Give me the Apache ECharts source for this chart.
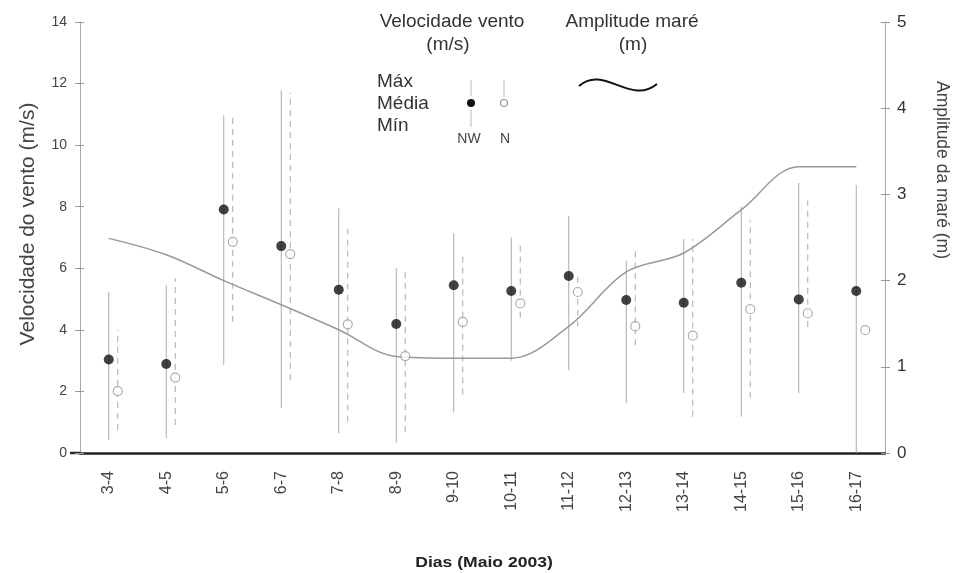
<!DOCTYPE html>
<html>
<head>
<meta charset="utf-8">
<script src="https://cdn.jsdelivr.net/npm/echarts@6/dist/echarts.min.js"></script>
<style>
  html, body { margin: 0; padding: 0; background: #fff; }
  #chart { width: 956px; height: 573px; }
</style>
</head>
<body>
<div id="chart"></div>
<script>
// dados
var dias = ['3-4', '4-5', '5-6', '6-7', '7-8', '8-9', '9-10', '10-11', '11-12', '12-13', '13-14', '14-15', '15-16', '16-17'];

// vento NW (m/s)
var nwMedia = [3.04, 2.89, 7.91, 6.72, 5.30, 4.19, 5.45, 5.26, 5.75, 4.97, 4.88, 5.53, 4.99, 5.26];
var nwMax = [5.24, 5.45, 10.97, 11.78, 7.95, 6.0, 7.14, 7.0, 7.7, 6.25, 6.95, 8.0, 8.77, 8.7];
var nwMin = [0.42, 0.48, 2.86, 1.46, 0.65, 0.33, 1.32, 3.0, 2.69, 1.62, 1.95, 1.18, 1.95, 0.0];

// vento N (m/s)
var nMedia = [2.01, 2.45, 6.86, 6.46, 4.18, 3.15, 4.26, 4.86, 5.23, 4.12, 3.81, 4.67, 4.54, 3.99];
var nMax = [4.0, 5.68, 10.9, 11.7, 7.3, 5.9, 6.49, 6.9, 5.72, 6.65, 6.95, 7.56, 8.2, null];
var nMin = [0.75, 0.91, 4.26, 2.37, 1.02, 0.68, 1.9, 4.4, 4.1, 3.5, 1.18, 1.78, 4.1, null];

// amplitude da maré (m)
var mare = [2.49, 2.30, 2.0, 1.72, 1.43, 1.12, 1.10, 1.10, 1.47, 2.10, 2.32, 2.82, 3.32, 3.32];

var fonte = 'Liberation Sans, Arial, sans-serif';

function intervalo(mn, mx) {
  var out = [];
  for (var i = 0; i < dias.length; i++) {
    if (mn[i] == null || mx[i] == null) continue;
    out.push([i, mn[i], mx[i]]);
  }
  return out;
}

function barra(offset, tracejado) {
  return function(params, api) {
    var a = api.coord([api.value(0), api.value(1)]);
    var b = api.coord([api.value(0), api.value(2)]);
    return {
      type: 'line',
      shape: { x1: a[0] + offset, y1: a[1], x2: b[0] + offset, y2: b[1] },
      style: { stroke: '#aaa', lineWidth: 1, lineDash: tracejado ? [6, 5] : null }
    };
  };
}

// texto simples para a legenda e títulos
function texto(t, x, y, tam, opts) {
  opts = opts || {};
  return {
    type: 'text', x: x, y: y,
    rotation: opts.rot || 0, scaleX: opts.sx || 1,
    style: {
      text: t, font: (opts.bold ? 'bold ' : '') + tam + 'px ' + fonte,
      fill: opts.cor || '#333', textAlign: opts.align || 'center', textVerticalAlign: 'middle'
    }
  };
}

var chart = echarts.init(document.getElementById('chart'));

var option = {
  animation: false,
  backgroundColor: '#fff',
  textStyle: { fontFamily: fonte },
  grid: { left: 80, right: 71, top: 22, bottom: 120 },
  xAxis: {
    type: 'category',
    data: dias,
    axisLine: { lineStyle: { color: '#222', width: 2.5 } },
    axisTick: { show: false },
    axisLabel: { rotate: 90, fontSize: 16, color: '#444', margin: 18 }
  },
  yAxis: [
    {
      type: 'value', position: 'left', min: 0, max: 14, interval: 2,
      axisLine: { show: true, lineStyle: { color: '#aaa' } },
      axisTick: { show: true, length: 5, lineStyle: { color: '#999' } },
      axisLabel: { fontSize: 14, color: '#444', margin: 13 },
      splitLine: { show: false }
    },
    {
      type: 'value', position: 'right', min: 0, max: 5, interval: 1,
      axisLine: { show: true, lineStyle: { color: '#aaa' } },
      axisTick: { show: true, length: 5, lineStyle: { color: '#999' } },
      axisLabel: { fontSize: 17, color: '#333', margin: 12 },
      splitLine: { show: false }
    },
    {
      type: 'value', position: 'left', min: 0, max: 14, interval: 2,
      axisLine: { show: false },
      axisTick: { show: true, inside: true, length: 4, lineStyle: { color: '#999' } },
      axisLabel: { show: false },
      splitLine: { show: false }
    },
    {
      type: 'value', position: 'right', min: 0, max: 5, interval: 1,
      axisLine: { show: false },
      axisTick: { show: true, inside: true, length: 4, lineStyle: { color: '#999' } },
      axisLabel: { show: false },
      splitLine: { show: false }
    }
  ],
  series: [
    {
      name: 'NW intervalo', type: 'custom', yAxisIndex: 0,
      renderItem: barra(0, false),
      data: intervalo(nwMin, nwMax), z: 2
    },
    {
      name: 'N intervalo', type: 'custom', yAxisIndex: 0,
      renderItem: barra(9, true),
      data: intervalo(nMin, nMax), z: 2
    },
    {
      name: 'Maré', type: 'line', yAxisIndex: 1,
      data: mare, smooth: 0.35, showSymbol: false,
      lineStyle: { color: '#999', width: 1.5 }, z: 3
    },
    {
      name: 'NW', type: 'scatter', yAxisIndex: 0,
      data: nwMedia, symbol: 'circle', symbolSize: 10,
      itemStyle: { color: '#111' }, z: 5
    },
    {
      name: 'N', type: 'scatter', yAxisIndex: 0,
      data: nMedia, symbol: 'circle', symbolSize: 9, symbolOffset: [9, 0],
      itemStyle: { color: '#fff', borderColor: '#999', borderWidth: 1.2 }, z: 5
    }
  ],
  graphic: [
    texto('Velocidade do vento (m/s)', 28, 224, 21, { rot: Math.PI / 2, cor: '#444' }),
    texto('Amplitude da maré (m)', 942, 170, 17.5, { rot: -Math.PI / 2, cor: '#444' }),
    texto('Dias (Maio 2003)', 484, 563, 15, { bold: true, sx: 1.17, cor: '#222' }),
    { type: 'line', shape: { x1: 70, y1: 453, x2: 80, y2: 453 }, style: { stroke: '#222', lineWidth: 2.5 } },
    // legenda
    texto('Velocidade vento', 452, 22, 19),
    texto('(m/s)', 448, 45, 19),
    texto('Amplitude maré', 632, 22, 19),
    texto('(m)', 633, 45, 19),
    texto('Máx', 377, 82, 19, { align: 'left' }),
    texto('Média', 377, 104, 19, { align: 'left' }),
    texto('Mín', 377, 126, 19, { align: 'left' }),
    { type: 'line', shape: { x1: 471, y1: 80, x2: 471, y2: 96 }, style: { stroke: '#bbb', lineWidth: 1 } },
    { type: 'line', shape: { x1: 471, y1: 110, x2: 471, y2: 127 }, style: { stroke: '#bbb', lineWidth: 1 } },
    { type: 'circle', shape: { cx: 471, cy: 103, r: 4 }, style: { fill: '#111' } },
    { type: 'line', shape: { x1: 504, y1: 80, x2: 504, y2: 97 }, style: { stroke: '#bbb', lineWidth: 1 } },
    { type: 'circle', shape: { cx: 504, cy: 103, r: 3.5 }, style: { fill: '#fff', stroke: '#999', lineWidth: 1.2 } },
    texto('NW', 469, 139, 14, { cor: '#444' }),
    texto('N', 505, 139, 14, { cor: '#444' }),
    { type: 'bezierCurve',
      shape: { x1: 579, y1: 86, x2: 657, y2: 84, cpx1: 604, cpy1: 64, cpx2: 630, cpy2: 106 },
      style: { stroke: '#111', lineWidth: 2, fill: null } }
  ]
};

chart.setOption(option);
</script>
</body>
</html>
